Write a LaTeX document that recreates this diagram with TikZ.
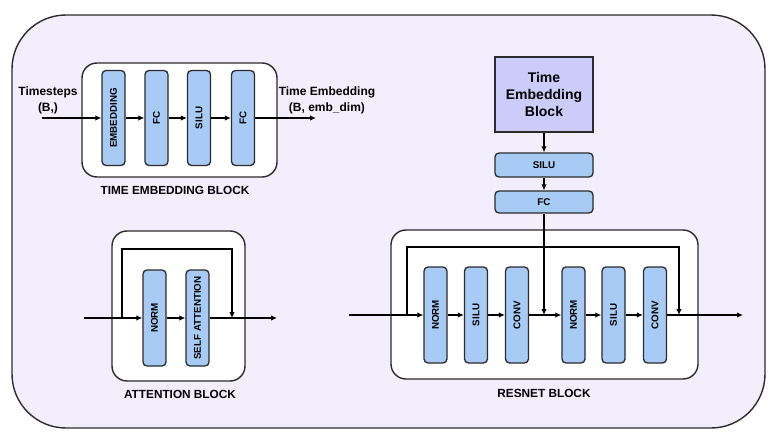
\documentclass[tikz,border=0pt]{standalone}
\usepackage{fontspec}
\setmainfont{Liberation Sans}
\usetikzlibrary{arrows.meta}
\definecolor{bgpurple}{HTML}{F3EEFC}
\definecolor{boxblue}{HTML}{A8CBF5}
\definecolor{tepurple}{HTML}{CCCCFA}
\definecolor{edgecol}{HTML}{2B2B2B}
\begin{document}
\begin{tikzpicture}[x=1pt,y=-1pt,
  container/.style={draw=edgecol, fill=white, line width=1.4pt, rounded corners=15pt, inner sep=0pt},
  layer/.style={draw=edgecol, fill=boxblue, line width=1.3pt, rounded corners=4pt, inner sep=0pt,
                font=\bfseries\fontsize{9.8}{11}\selectfont},
  vlayer/.style={layer, rotate=90, minimum width=96pt, minimum height=23pt},
  hlayer/.style={layer, minimum width=98pt},
  blocklabel/.style={font=\bfseries\fontsize{11.8}{14}\selectfont, inner sep=0pt},
  iolabel/.style={font=\bfseries\fontsize{12}{16}\selectfont, align=center, inner sep=0pt},
  conn/.style={draw=black, line width=1.6pt, -{Latex[length=6pt,width=5.5pt]}}
]
\useasboundingbox (0,0) rectangle (780,444);
% outer background
\node[draw=edgecol, fill=bgpurple, line width=1.4pt, rounded corners=54pt, minimum width=753pt, minimum height=413pt, inner sep=0pt] (outer) at (388.5,221.5) {};

% ---------------- Time embedding block ----------------
\node[container, minimum width=195pt, minimum height=114pt] (tecont) at (179.5,120) {};
\node[vlayer, minimum width=95pt] (emb) at (113.5,118) {EMBEDDING};
\node[vlayer, minimum width=95pt] (fc1) at (156.5,118) {FC};
\node[vlayer, minimum width=95pt] (silu1) at (199,118) {SILU};
\node[vlayer, minimum width=95pt] (fc2) at (243,118) {FC};
\node[blocklabel] (telabel) at (175,190) {TIME EMBEDDING BLOCK};
\coordinate (tin) at (42,118);
\coordinate (tout) at (316,118);
\node[iolabel] (tslabel) at (48,100) {Timesteps\\(B,)};
\node[iolabel] (telab2) at (327,100) {Time Embedding\\(B, emb\_dim)};
\draw[conn] (tin) -- (emb);
\draw[conn] (emb) -- (fc1);
\draw[conn] (fc1) -- (silu1);
\draw[conn] (silu1) -- (fc2);
\draw[conn] (fc2) -- (tout);

% ---------------- Attention block ----------------
\node[container, minimum width=133pt, minimum height=150pt] (atcont) at (178.5,306) {};
\node[vlayer] (anorm) at (154.5,318) {NORM};
\node[vlayer] (attn) at (197.5,318) {SELF ATTENTION};
\node[blocklabel] (atlabel) at (180,394) {ATTENTION BLOCK};
\coordinate (ain) at (84,318);
\coordinate (askip) at (122,318);
\coordinate (atop) at (122,249);
\coordinate (ajoin) at (232,318);
\coordinate (aout) at (277,318);
\draw[conn] (ain) -- (anorm);
\draw[conn] (anorm) -- (attn);
\draw[conn] (attn) -- (aout);
\draw[conn] (askip) -- (atop) -| (ajoin);

% ---------------- Time embedding path (right) ----------------
\node[draw=edgecol, fill=tepurple, line width=1.4pt, minimum width=98pt, minimum height=75pt, inner sep=0pt,
      font=\bfseries\fontsize{14}{17}\selectfont, align=center] (teb) at (544,94.5) {Time\\Embedding\\Block};
\node[hlayer, minimum height=24pt] (tsilu) at (544,165) {SILU};
\node[hlayer, minimum height=22pt] (tfc) at (544,202) {FC};
\draw[conn] (teb) -- (tsilu);
\draw[conn] (tsilu) -- (tfc);

% ---------------- ResNet block ----------------
\node[container, minimum width=307pt, minimum height=149pt] (rscont) at (544.5,304.5) {};
\node[vlayer] (rnorm1) at (435.5,315) {NORM};
\node[vlayer] (rsilu1) at (476,315) {SILU};
\node[vlayer] (rconv1) at (517,315) {CONV};
\node[vlayer] (rnorm2) at (573.5,315) {NORM};
\node[vlayer] (rsilu2) at (613.5,315) {SILU};
\node[vlayer] (rconv2) at (655,315) {CONV};
\node[blocklabel] (rslabel) at (544,393) {RESNET BLOCK};
\coordinate (rin) at (349,315);
\coordinate (rskip) at (407,315);
\coordinate (rtop) at (407,247);
\coordinate (rjoin2) at (679,315);
\coordinate (rjoin1) at (544,315);
\coordinate (rout) at (743,315);
\draw[conn] (rin) -- (rnorm1);
\draw[conn] (rnorm1) -- (rsilu1);
\draw[conn] (rsilu1) -- (rconv1);
\draw[conn] (rconv1) -- (rnorm2);
\draw[conn] (rnorm2) -- (rsilu2);
\draw[conn] (rsilu2) -- (rconv2);
\draw[conn] (rconv2) -- (rout);
\draw[conn] (rskip) -- (rtop) -| (rjoin2);
\draw[conn] (tfc) -- (rjoin1);
\end{tikzpicture}
\end{document}
